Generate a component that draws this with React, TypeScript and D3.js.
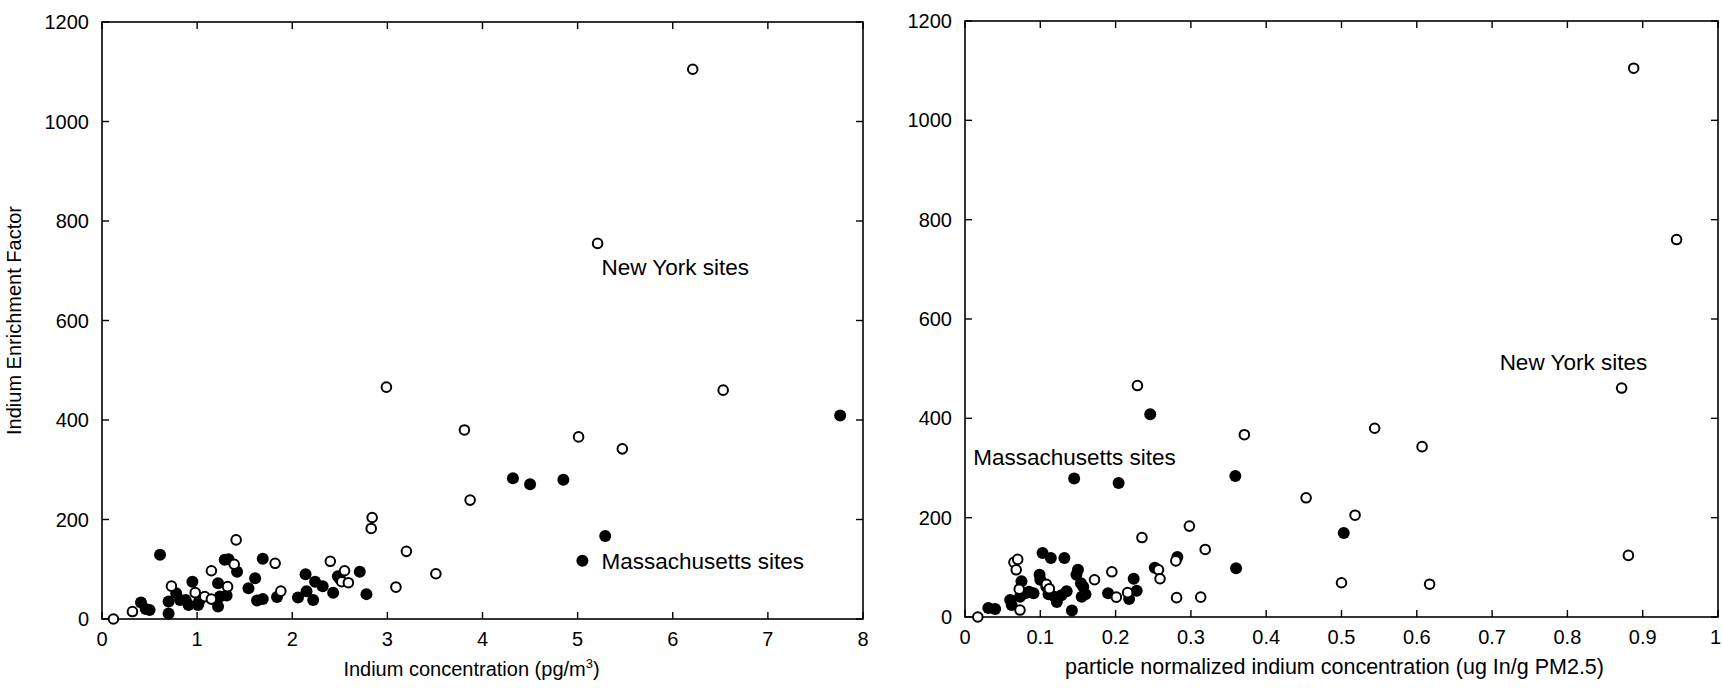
import React from "react";
import * as d3 from "d3";

// left panel: indium concentration (pg/m3) vs enrichment factor
const leftNewYork: [number, number][] = [
  [0.12, 0], [0.32, 15], [0.73, 66], [0.98, 53], [1.08, 45], [1.15, 40], [1.15, 97],
  [1.32, 65], [1.39, 110], [1.41, 159], [1.82, 112], [1.88, 56], [2.4, 116], [2.52, 75],
  [2.55, 97], [2.59, 73], [2.83, 182], [2.84, 204], [2.99, 466], [3.09, 64], [3.2, 136],
  [3.51, 91], [3.81, 380], [3.87, 239], [5.01, 366], [5.21, 755], [5.47, 342], [6.21, 1105],
  [6.53, 460],
];
const leftMassachusetts: [number, number][] = [
  [0.41, 33], [0.46, 20], [0.5, 18], [0.61, 129], [0.7, 11], [0.7, 35], [0.78, 52],
  [0.82, 38], [0.88, 38], [0.91, 28], [0.95, 75], [1.01, 28], [1.02, 35], [1.22, 72],
  [1.22, 25], [1.24, 45], [1.29, 119], [1.31, 47], [1.33, 120], [1.42, 95], [1.54, 62],
  [1.61, 82], [1.63, 37], [1.69, 40], [1.69, 121], [1.84, 44], [2.06, 43], [2.14, 90],
  [2.15, 56], [2.22, 38], [2.24, 75], [2.32, 66], [2.43, 53], [2.48, 86], [2.5, 81],
  [2.71, 95], [2.78, 50], [4.32, 283], [4.5, 271], [4.85, 280], [5.05, 117], [5.29, 167],
  [7.76, 409],
];

// right panel: particle normalized concentration vs enrichment factor
const rightNewYork: [number, number][] = [
  [0.017, 0], [0.065, 110], [0.07, 116], [0.068, 95], [0.073, 14], [0.072, 56], [0.108, 66],
  [0.112, 57], [0.172, 75], [0.195, 91], [0.201, 40], [0.216, 49], [0.229, 466], [0.235, 160],
  [0.257, 95], [0.259, 77], [0.28, 113], [0.281, 39], [0.298, 183], [0.313, 40], [0.319, 136],
  [0.371, 367], [0.453, 240], [0.5, 69], [0.518, 205], [0.544, 380], [0.607, 343], [0.617, 66],
  [0.872, 461], [0.881, 124], [0.888, 1105], [0.945, 760],
];
const rightMassachusetts: [number, number][] = [
  [0.031, 18], [0.04, 16], [0.06, 34], [0.062, 24], [0.073, 41], [0.075, 72], [0.08, 48],
  [0.085, 51], [0.091, 48], [0.099, 85], [0.1, 75], [0.103, 129], [0.108, 61], [0.111, 46],
  [0.114, 119], [0.119, 41], [0.122, 30], [0.128, 44], [0.132, 119], [0.135, 52], [0.142, 13],
  [0.145, 279], [0.148, 85], [0.15, 95], [0.154, 68], [0.155, 41], [0.157, 61], [0.16, 46],
  [0.19, 48], [0.204, 270], [0.218, 36], [0.224, 77], [0.228, 53], [0.246, 408], [0.252, 99],
  [0.282, 121], [0.359, 284], [0.36, 98], [0.503, 169],
];

const yTicks = [0, 200, 400, 600, 800, 1000, 1200];
const leftXTicks = [0, 1, 2, 3, 4, 5, 6, 7, 8];
const rightXTicks = [0, 0.1, 0.2, 0.3, 0.4, 0.5, 0.6, 0.7, 0.8, 0.9, 1];

const font = "'Liberation Sans', Arial, Helvetica, sans-serif";
const W = 1722;

type Note = { text: string; x: number; y: number };

function Panel(props: {
  left: number; right: number; bottom: number; top: number;
  xMax: number; xTicks: number[];
  ny: [number, number][]; ma: [number, number][];
  xLabel: React.ReactNode; xLabelSize: number; xLabelShift: number;
  yLabel?: string; notes: Note[];
}) {
  const { left, right, bottom, top } = props;
  const x = d3.scaleLinear().domain([0, props.xMax]).range([left, right]);
  const y = d3.scaleLinear().domain([0, 1200]).range([bottom, top]);
  const tl = 7;
  return (
    <g fontFamily={font} fill="#000">
      <rect x={left} y={top} width={right - left} height={bottom - top}
        fill="none" stroke="#000" strokeWidth={1.6} />
      {props.xTicks.map((t) => {
        // keep the last label inside the page edge
        const nearEdge = x(t) + 6 > W;
        return (
          <g key={"x" + t}>
            <line x1={x(t)} x2={x(t)} y1={bottom} y2={bottom - tl} stroke="#000" strokeWidth={1.4} />
            <line x1={x(t)} x2={x(t)} y1={top} y2={top + tl} stroke="#000" strokeWidth={1.4} />
            <text x={nearEdge ? W - 1 : x(t)} y={bottom + 27} fontSize={20}
              textAnchor={nearEdge ? "end" : "middle"}>{String(t)}</text>
          </g>
        );
      })}
      {yTicks.map((t) => (
        <g key={"y" + t}>
          <line x1={left} x2={left + tl} y1={y(t)} y2={y(t)} stroke="#000" strokeWidth={1.4} />
          <line x1={right} x2={right - tl} y1={y(t)} y2={y(t)} stroke="#000" strokeWidth={1.4} />
          <text x={left - 13} y={y(t) + 7} fontSize={20} textAnchor="end">{String(t)}</text>
        </g>
      ))}
      {props.ma.map((d, i) => (
        <circle key={"m" + i} cx={x(d[0])} cy={y(d[1])} r={6} fill="#000" />
      ))}
      {props.ny.map((d, i) => (
        <circle key={"n" + i} cx={x(d[0])} cy={y(d[1])} r={4.8} fill="#fff" stroke="#000" strokeWidth={2} />
      ))}
      {props.notes.map((n) => (
        <text key={n.text} x={x(n.x)} y={y(n.y)} fontSize={22.5}>{n.text}</text>
      ))}
      <text x={(left + right) / 2 + props.xLabelShift} y={bottom + 57} fontSize={props.xLabelSize}
        textAnchor="middle">{props.xLabel}</text>
      {props.yLabel && (
        <text transform={`translate(${left - 81},${(top + bottom) / 2}) rotate(-90)`}
          fontSize={20} textAnchor="middle">{props.yLabel}</text>
      )}
    </g>
  );
}

export default function App() {
  return (
    <svg width={W} height={688} style={{ position: "absolute", left: 0, top: 0, background: "#fff" }}>
      <rect width={W} height={688} fill="#fff" />
      <Panel left={102} right={863} bottom={619} top={22} xMax={8} xTicks={leftXTicks}
        ny={leftNewYork} ma={leftMassachusetts}
        xLabel={<>Indium concentration (pg/m<tspan fontSize={13} dy={-8}>3</tspan><tspan dy={8}>)</tspan></>}
        xLabelSize={20} xLabelShift={-11}
        yLabel="Indium Enrichment Factor"
        notes={[
          { text: "New York sites", x: 5.25, y: 691 },
          { text: "Massachusetts sites", x: 5.25, y: 100 },
        ]} />
      <Panel left={965} right={1718} bottom={617} top={21} xMax={1} xTicks={rightXTicks}
        ny={rightNewYork} ma={rightMassachusetts}
        xLabel="particle normalized indium concentration (ug In/g PM2.5)"
        xLabelSize={21.5} xLabelShift={-7}
        notes={[
          { text: "New York sites", x: 0.71, y: 498 },
          { text: "Massachusetts sites", x: 0.011, y: 307 },
        ]} />
    </svg>
  );
}
